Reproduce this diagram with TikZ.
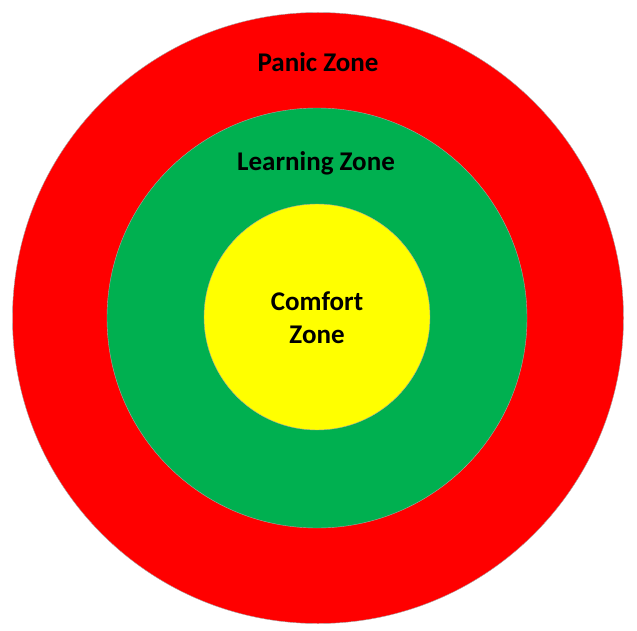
\documentclass[tikz,border=0pt]{standalone}
\usepackage{fontspec}
\setmainfont{Carlito}
\definecolor{panicred}{HTML}{FF0000}
\definecolor{learngreen}{HTML}{00B050}
\definecolor{comfortyellow}{HTML}{FFFF00}
\begin{document}
\begin{tikzpicture}[
    x=1pt, y=-1pt,
    zone/.style={circle, inner sep=0pt, draw=black!35, line width=0.4pt},
    label/.style={font=\fontsize{27}{33}\selectfont\bfseries, align=center, inner sep=0pt}
  ]
  \useasboundingbox (0,0) rectangle (637,631);

  % Zones
  \node[zone, fill=panicred, minimum size=611pt]     (panic)   at (318,318) {};
  \node[zone, fill=learngreen, minimum size=420pt]   (learn)   at (317,318) {};
  \node[zone, fill=comfortyellow, minimum size=226pt] (comfort) at (317,317) {};

  % Labels
  \node[label, anchor=base] (paniclbl) at (318,72)  {Panic Zone};
  \node[label, anchor=base] (learnlbl) at (316,171) {Learning Zone};
  \node[label, anchor=base] (comflbl)  at (317,343) {Comfort\\Zone};
\end{tikzpicture}
\end{document}
